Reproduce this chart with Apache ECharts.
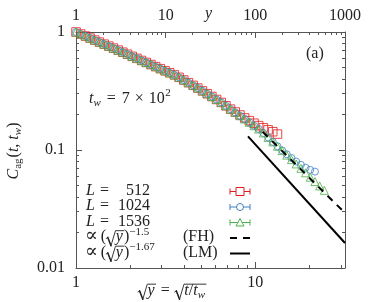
<!DOCTYPE html>
<html><head><meta charset="utf-8">
<script src="https://cdn.jsdelivr.net/npm/echarts@6/dist/echarts.min.js"></script>
<style>html,body{margin:0;padding:0;background:#fff}#c{width:374px;height:302px}</style>
</head><body><div id="c"></div>
<script>
// ---- data ----
const sqrtY = [1.000,1.062,1.128,1.198,1.272,1.351,1.435,1.524,1.618,1.719,
  1.825,1.938,2.058,2.186,2.321,2.465,2.618,2.780,2.953,3.136,
  3.330,3.537,3.756,3.989,4.236,4.499,4.778,5.074,5.389,5.723,
  6.078,6.455,6.855,7.280,7.731,8.211,8.720,9.260,9.834,10.44,
  11.09,11.78,12.51,13.29,14.11,14.98,15.91,16.90,17.95,19.06,
  20.24,21.50,22.83,24.24];
const cL512 = [1.000,0.961,0.924,0.888,0.854,0.821,0.789,0.759,0.730,0.702,
  0.674,0.648,0.622,0.598,0.574,0.552,0.530,0.509,0.489,0.469,
  0.451,0.433,0.413,0.392,0.372,0.353,0.335,0.317,0.300,0.284,
  0.268,0.253,0.237,0.222,0.210,0.198,0.187,0.1774,0.1687,0.161,
  0.1542,0.1483,0.1429,0.1365];
const cL1024 = [1.000,0.961,0.924,0.888,0.854,0.821,0.789,0.759,0.730,0.702,
  0.674,0.648,0.622,0.598,0.574,0.552,0.530,0.509,0.489,0.469,
  0.451,0.433,0.413,0.392,0.372,0.353,0.335,0.317,0.300,0.284,
  0.268,0.253,0.237,0.222,0.208,0.195,0.183,0.1715,0.1607,0.1506,
  0.1393,0.1278,0.1172,0.1075,0.0993,0.0920,0.0855,0.0798,0.0750,0.0708,
  0.0679,0.0656];
const cL1536 = [1.000,0.961,0.924,0.888,0.854,0.821,0.789,0.759,0.730,0.702,
  0.674,0.648,0.622,0.598,0.574,0.552,0.530,0.509,0.489,0.469,
  0.451,0.433,0.413,0.392,0.372,0.353,0.335,0.317,0.300,0.284,
  0.268,0.253,0.237,0.222,0.208,0.195,0.183,0.1715,0.1607,0.1506,
  0.1393,0.1278,0.1172,0.1075,0.0987,0.0905,0.0830,0.0762,0.0699,0.0641,
  0.0588,0.0540,0.0496,0.0455];
const fhX = [11, 31.62];  const fhC = [0.1425, 0.02925];
const lmX = [9.1, 31.62]; const lmC = [0.1304, 0.01629];
const xMajor = [1, 10];
const xMinor = [2,3,4,5,6,7,8,9,20,30];
const topMajor = [1, 10, 100, 1000];
const topMinor = [2,3,4,5,6,7,8,9,20,30,40,50,60,70,80,90,200,300,400,500,600,700,800,900];
const yMajor = [0.01, 0.1, 1];
const yMinor = [0.02,0.03,0.04,0.05,0.06,0.07,0.08,0.09,0.2,0.3,0.4,0.5,0.6,0.7,0.8,0.9];
const XMAX = 31.6228;

// ---- style ----
const RED = '#e41a1c', BLUE = '#3f80c2', GREEN = '#4daf4a';
const AX = '#555', TXT = '#222';
const FF = '"Liberation Serif","DejaVu Serif",serif';
const BASE = 16, MID = 0.34;

const mctx = document.createElement('canvas').getContext('2d');
function fontStr(sz, it) { return (it ? 'italic ' : '') + sz + 'px ' + FF; }
function mw(t, sz, it) { mctx.font = fontStr(sz, it); return mctx.measureText(t).width; }
function txt(x, yb, t, sz, it, align) {
  return { type: 'text', x: x, y: yb - MID * sz, silent: true, z: 100,
    style: { text: t, font: fontStr(sz, it), fill: TXT, textAlign: align || 'left', align: align || 'left',
      textVerticalAlign: 'middle', verticalAlign: 'middle' } };
}
function pl(points, w) {
  return { type: 'polyline', silent: true, z: 100, shape: { points: points },
    style: { stroke: TXT, lineWidth: w, fill: null, lineJoin: 'round', lineCap: 'round' } };
}
function layout(x, yb, pieces, els) {
  let cx = x;
  for (const p of pieces) {
    if (p.gap) cx += p.gap;
    if (p.rad) {
      const s = BASE, top = yb - 0.74 * s;
      const innerEnd = layout(cx + 0.6 * s, yb, p.rad, els);
      els.push(pl([[cx, yb - 0.25 * s], [cx + 0.1 * s, yb - 0.32 * s]], 0.9));
      els.push(pl([[cx + 0.1 * s, yb - 0.32 * s], [cx + 0.3 * s, yb + 0.2 * s]], 1.5));
      els.push(pl([[cx + 0.3 * s, yb + 0.2 * s], [cx + 0.58 * s, top], [innerEnd + 1, top]], 0.9));
      cx = innerEnd + 1;
      continue;
    }
    const sz = p.sz || BASE;
    els.push(txt(cx, yb + (p.dy || 0), p.t, sz, p.it));
    cx += mw(p.t, sz, p.it);
  }
  return cx;
}

const G = [];
// (a)
layout(306, 59, [{ t: '(a)' }], G);
// top axis name y
layout(205, 19, [{ t: 'y', it: true }], G);
// t_w = 7 x 10^2
layout(89, 104, [{ t: 't', it: true }, { t: 'w', it: true, sz: 11, dy: 3 }, { t: '=', gap: 6 }, { t: '7', gap: 6 },
  { t: '×', gap: 5 }, { t: '10', gap: 5 }, { t: '2', sz: 11, dy: -7, gap: 0.5 }], G);
// bottom axis name
layout(138, 296, [{ rad: [{ t: 'y', it: true }] }, { t: '=', gap: 5 },
  { rad: [{ t: 't', it: true }, { t: '/' }, { t: 't', it: true }, { t: 'w', it: true, sz: 11, dy: 3 }], gap: 5 }], G);
// y axis name (rotated)
(function () {
  const kids = [];
  const pieces = [{ t: 'C', it: true }, { t: 'ag', sz: 11, dy: 3 }, { t: '(', gap: 1 }, { t: 't', it: true }, { t: ', ' }, { t: 't', it: true }, { t: 'w', it: true, sz: 11, dy: 3 }, { t: ')' }];
  const tmp = [];
  const w = layout(0, 0, pieces, tmp);
  layout(-w / 2, 0, pieces, kids);
  G.push({ type: 'group', x: 19, y: 151, rotation: Math.PI / 2, children: kids });
})();
// legend texts
const legRows = [196, 211.5, 227, 242.5, 258];
[['512', 0], ['1024', 1], ['1536', 2]].forEach(function (r) {
  const yb = legRows[r[1]];
  G.push(txt(86, yb, 'L', BASE, true));
  G.push(txt(100, yb, '=', BASE, false));
  G.push(txt(150, yb, r[0], BASE, false, 'right'));
});
layout(85, legRows[3], [{ t: '∝', sz: 19 }, { t: '(', gap: 3 }, { rad: [{ t: 'y', it: true }] }, { t: ')' }, { t: '−1.5', sz: 11, dy: -7 }], G);
layout(183, legRows[3], [{ t: '(FH)' }], G);
layout(85, legRows[4], [{ t: '∝', sz: 19 }, { t: '(', gap: 3 }, { rad: [{ t: 'y', it: true }] }, { t: ')' }, { t: '−1.67', sz: 11, dy: -7 }], G);
layout(183, legRows[4], [{ t: '(LM)' }], G);
// legend samples
function errbar(yc, color) {
  G.push({ type: 'line', silent: true, z: 100, shape: { x1: 230, y1: yc, x2: 250, y2: yc }, style: { stroke: color, lineWidth: 1 } });
  G.push({ type: 'line', silent: true, z: 100, shape: { x1: 230, y1: yc - 3, x2: 230, y2: yc + 3 }, style: { stroke: color, lineWidth: 1 } });
  G.push({ type: 'line', silent: true, z: 100, shape: { x1: 250, y1: yc - 3, x2: 250, y2: yc + 3 }, style: { stroke: color, lineWidth: 1 } });
}
const ly = legRows.map(function (v) { return v - 4.5; });
errbar(ly[0], RED);
G.push({ type: 'rect', silent: true, z: 101, shape: { x: 236, y: ly[0] - 4, width: 8, height: 8 }, style: { fill: '#fff', stroke: RED, lineWidth: 1 } });
errbar(ly[1], BLUE);
G.push({ type: 'circle', silent: true, z: 101, shape: { cx: 240, cy: ly[1], r: 3.5 }, style: { fill: '#fff', stroke: BLUE, lineWidth: 1 } });
errbar(ly[2], GREEN);
G.push({ type: 'polygon', silent: true, z: 101, shape: { points: [[240, ly[2] - 4], [244, ly[2] + 3.5], [236, ly[2] + 3.5]] }, style: { fill: '#fff', stroke: GREEN, lineWidth: 1 } });
G.push({ type: 'line', silent: true, z: 100, shape: { x1: 230, y1: ly[3], x2: 250, y2: ly[3] }, style: { stroke: '#000', lineWidth: 2, lineDash: [7, 6] } });
G.push({ type: 'line', silent: true, z: 100, shape: { x1: 230, y1: ly[4], x2: 250, y2: ly[4] }, style: { stroke: '#000', lineWidth: 2 } });

// ---- axes ----
function ax(o) {
  const a = {
    type: 'log', logBase: 10, gridIndex: 0, min: o.min, max: o.max, position: o.pos,
    axisLine: { show: o.line !== false, onZero: false, lineStyle: { color: AX, width: 1 } },
    axisTick: { show: true, inside: true, length: o.len, customValues: o.ticks, lineStyle: { color: AX, width: 1 } },
    axisLabel: { show: !!o.labels },
    splitLine: { show: false }, minorTick: { show: false }, minorSplitLine: { show: false },
    axisPointer: { show: false }, silent: true
  };
  if (o.labels) {
    a.axisLabel = { show: true, customValues: o.labels, margin: o.margin, color: TXT, fontFamily: FF, fontSize: BASE,
      formatter: function (v) { return String(+v.toPrecision(6)); } };
  }
  return a;
}
const xAxes = [
  ax({ min: 1, max: XMAX, pos: 'bottom', len: 6, ticks: xMajor, labels: xMajor, margin: 7 }),
  ax({ min: 1, max: XMAX, pos: 'bottom', len: 3, ticks: xMinor, line: false }),
  ax({ min: 1, max: 1000, pos: 'top', len: 6, ticks: topMajor, labels: topMajor, margin: 8 }),
  ax({ min: 1, max: 1000, pos: 'top', len: 3, ticks: topMinor, line: false })
];
const yAxes = [
  ax({ min: 0.01, max: 1, pos: 'left', len: 6, ticks: yMajor, labels: yMajor, margin: 11 }),
  ax({ min: 0.01, max: 1, pos: 'left', len: 3, ticks: yMinor, line: false }),
  ax({ min: 0.01, max: 1, pos: 'right', len: 6, ticks: yMajor }),
  ax({ min: 0.01, max: 1, pos: 'right', len: 3, ticks: yMinor, line: false })
];

function pairs(xs, ys) { return ys.map(function (v, i) { return [xs[i], v]; }); }
function sc(name, data, symbol, size, color, z) {
  return { name: name, type: 'scatter', xAxisIndex: 0, yAxisIndex: 0, data: data, symbol: symbol, symbolSize: size,
    itemStyle: { color: 'rgba(255,255,255,0)', borderColor: color, borderWidth: 1 }, z: z, silent: true };
}

const chart = echarts.init(document.getElementById('c'), null, { renderer: 'canvas' });
chart.setOption({
  animation: false,
  backgroundColor: '#fff',
  grid: { left: 76, right: 29, top: 32, bottom: 34, containLabel: false },
  xAxis: xAxes,
  yAxis: yAxes,
  series: [
    sc('L = 512', pairs(sqrtY, cL512), 'rect', 8.5, RED, 2),
    sc('L = 1024', pairs(sqrtY, cL1024), 'circle', 7, BLUE, 3),
    sc('L = 1536', pairs(sqrtY, cL1536), 'triangle', 8, GREEN, 4),
    { name: 'FH', type: 'line', xAxisIndex: 0, yAxisIndex: 0, data: pairs(fhX, fhC), symbol: 'none', z: 6, silent: true,
      lineStyle: { color: '#000', width: 2, type: [7, 6] } },
    { name: 'LM', type: 'line', xAxisIndex: 0, yAxisIndex: 0, data: pairs(lmX, lmC), symbol: 'none', z: 6, silent: true,
      lineStyle: { color: '#000', width: 2, type: 'solid' } }
  ],
  graphic: { elements: G }
});
</script>
</body></html>
